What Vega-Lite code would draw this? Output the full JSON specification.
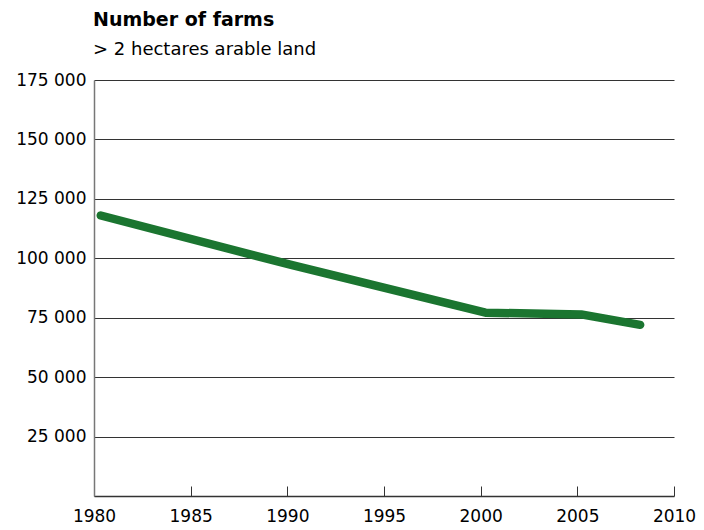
{
  "$schema": "https://vega.github.io/schema/vega-lite/v6.json",
  "autosize": {"type": "none"},
  "width": 580,
  "height": 416,
  "padding": {"left": 94, "top": 80, "right": 30, "bottom": 34},
  "background": "white",
  "title": {
    "text": "Number of farms",
    "subtitle": "> 2 hectares arable land",
    "anchor": "start",
    "frame": "group",
    "dx": -1,
    "font": "DejaVu Sans",
    "fontSize": 19,
    "fontWeight": "bold",
    "color": "#000000",
    "subtitleFont": "DejaVu Sans",
    "subtitleFontSize": 18,
    "subtitleColor": "#000000",
    "subtitlePadding": 11,
    "offset": 12
  },
  "data": {
    "values": [
      {"year": 1980.35, "farms": 118000},
      {"year": 1990.2, "farms": 97200},
      {"year": 2000.25, "farms": 77100},
      {"year": 2005.2, "farms": 76400},
      {"year": 2008.25, "farms": 72000}
    ]
  },
  "mark": {
    "type": "line",
    "color": "#1b7530",
    "strokeWidth": 8.5,
    "strokeCap": "round",
    "strokeJoin": "round"
  },
  "encoding": {
    "x": {
      "field": "year",
      "type": "quantitative",
      "scale": {"domain": [1980, 2010], "nice": false, "zero": false},
      "axis": {
        "title": null,
        "values": [1980, 1985, 1990, 1995, 2000, 2005, 2010],
        "format": "d",
        "grid": false,
        "domainColor": "#333333",
        "domainWidth": 1.5,
        "ticks": true,
        "tickSize": -10,
        "tickColor": "#333333",
        "tickWidth": 1,
        "labelFont": "DejaVu Sans",
        "labelFontSize": 17,
        "labelColor": "#000000",
        "labelPadding": 22,
        "labelFlush": false
      }
    },
    "y": {
      "field": "farms",
      "type": "quantitative",
      "scale": {"domain": [0, 175000], "nice": false},
      "axis": {
        "title": null,
        "values": [25000, 50000, 75000, 100000, 125000, 150000, 175000],
        "labelExpr": "replace(format(datum.value, ','), ',', ' ')",
        "grid": true,
        "gridColor": "#333333",
        "gridWidth": 1,
        "gridOpacity": 1,
        "domainColor": "#777777",
        "domainWidth": 1.5,
        "ticks": false,
        "labelFont": "DejaVu Sans",
        "labelFontSize": 17,
        "labelColor": "#000000",
        "labelPadding": 8
      }
    }
  },
  "config": {
    "view": {"stroke": null}
  }
}
